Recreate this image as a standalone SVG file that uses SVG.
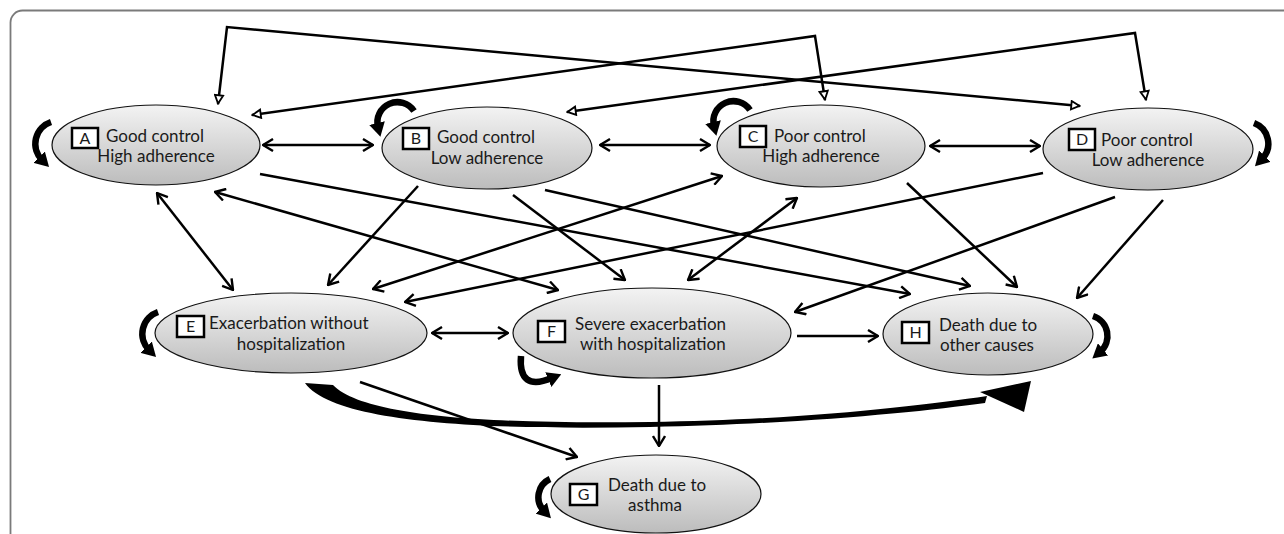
<svg xmlns="http://www.w3.org/2000/svg" width="1284" height="534" viewBox="0 0 1284 534">
<style>
.node ellipse{fill:url(#ng);stroke:#111;stroke-width:1.2}
.box{fill:#fff;stroke:#000;stroke-width:2.5}
.lbl{font-family:Lato,"Liberation Sans",sans-serif;font-size:17px;fill:#1a1a1a}
.key{font-family:Lato,"Liberation Sans",sans-serif;font-size:16px;fill:#1a1a1a;text-anchor:middle}
.c{text-anchor:middle}
.conn{fill:none;stroke:#000;stroke-width:2.5}
.dbl{marker-start:url(#v);marker-end:url(#v)}
.one{marker-end:url(#v)}
.top{fill:none;stroke:#000;stroke-width:2.5;stroke-linejoin:miter;marker-start:url(#tri);marker-end:url(#tri)}
.loop{fill:none;stroke:#000;stroke-width:6.5;marker-end:url(#lh)}
</style>
<defs>
<linearGradient id="ng" x1="0" y1="0" x2="0" y2="1">
<stop offset="0" stop-color="#f3f3f3"/>
<stop offset="1" stop-color="#bcbcbc"/>
</linearGradient>
<marker id="v" viewBox="0 0 12 14" refX="11" refY="7" markerWidth="12" markerHeight="14" markerUnits="userSpaceOnUse" orient="auto-start-reverse">
<path d="M1,1 L11,7 L1,13" fill="none" stroke="#000" stroke-width="2.4"/>
</marker>
<marker id="tri" viewBox="0 0 12 12" refX="11" refY="6" markerWidth="11" markerHeight="11" markerUnits="userSpaceOnUse" orient="auto-start-reverse">
<path d="M1.5,1.5 L10.5,6 L1.5,10.5 Z" fill="#fff" stroke="#000" stroke-width="2"/>
</marker>
<marker id="lh" viewBox="0 0 14 16" refX="4" refY="8" markerWidth="14" markerHeight="16" markerUnits="userSpaceOnUse" orient="auto">
<path d="M0,0 L14,8 L0,16 Z" fill="#000"/>
</marker>
</defs>
<rect x="10.5" y="10.5" width="1320" height="600" rx="12" fill="#fff" stroke="#7a7a7a" stroke-width="1.8"/>

<g id="connectors">
<polyline class="top" points="218,104 227,27 1080,106"/>
<polyline class="top" points="252,115 815,36 825,100"/>
<polyline class="top" points="567,112 1135,33 1146,100"/>

<line class="conn dbl" x1="263" y1="145" x2="373" y2="145"/>
<line class="conn dbl" x1="600" y1="145" x2="710" y2="145"/>
<line class="conn dbl" x1="930" y1="146" x2="1040" y2="146"/>
<line class="conn dbl" x1="432" y1="333" x2="508" y2="333"/>
<line class="conn dbl" x1="157" y1="193" x2="233" y2="290"/>
<line class="conn dbl" x1="215" y1="192" x2="558" y2="290"/>
<line class="conn dbl" x1="373" y1="289" x2="722" y2="176"/>
<line class="conn dbl" x1="688" y1="280" x2="797" y2="198"/>

<line class="conn one" x1="797" y1="336" x2="878" y2="336"/>
<line class="conn one" x1="659" y1="385" x2="659" y2="446"/>
<line class="conn one" x1="360" y1="382" x2="577" y2="457"/>
<line class="conn one" x1="260" y1="174" x2="910" y2="294"/>
<line class="conn one" x1="418" y1="186" x2="328" y2="285"/>
<line class="conn one" x1="513" y1="195" x2="625" y2="280"/>
<line class="conn one" x1="545" y1="190" x2="970" y2="286"/>
<line class="conn one" x1="907" y1="183" x2="1017" y2="287"/>
<line class="conn one" x1="1043" y1="173" x2="405" y2="302"/>
<line class="conn one" x1="1115" y1="197" x2="795" y2="312"/>
<line class="conn one" x1="1163" y1="200" x2="1077" y2="298"/>

<path d="M305,383 C335,425 500,430 650,427 C800,424 920,412 985,403 L987,396 C920,406 800,420 650,422 C500,424 365,418 333,385 Z" fill="#000"/>
<polygon points="980,392 1031,381 1024,412" fill="#000"/>

<path class="loop" d="M51,122 A23,23 0 0 0 42,160"/>
<path class="loop" d="M414,111 A20,20 0 0 0 378,127"/>
<path class="loop" d="M750,110 A20,20 0 0 0 714,126"/>
<path class="loop" d="M1254,123 A22,22 0 0 1 1262,159"/>
<path class="loop" d="M158,312 A23,23 0 0 0 149,350"/>
<path class="loop" d="M521,356 Q518,392 552,378"/>
<path class="loop" d="M1093,316 A21,21 0 0 1 1100,352"/>
<path class="loop" d="M550,479 A20,20 0 0 0 544,511"/>
</g>

<g id="node-A" class="node">
<ellipse cx="156" cy="145" rx="104" ry="40"/>
<rect class="box" x="72" y="128" width="26" height="20"/>
<text class="key" x="85" y="144">A</text>
<text class="lbl" x="106" y="142">Good control</text>
<text class="lbl c" x="156" y="162">High adherence</text>
</g>
<g id="node-B" class="node">
<ellipse cx="487" cy="148" rx="105" ry="41"/>
<rect class="box" x="403" y="128" width="26" height="21"/>
<text class="key" x="416" y="144">B</text>
<text class="lbl" x="437" y="143">Good control</text>
<text class="lbl c" x="487" y="164">Low adherence</text>
</g>
<g id="node-C" class="node">
<ellipse cx="821" cy="146" rx="104" ry="41"/>
<rect class="box" x="740" y="126" width="26" height="21"/>
<text class="key" x="753" y="142">C</text>
<text class="lbl" x="774" y="142">Poor control</text>
<text class="lbl c" x="821" y="162">High adherence</text>
</g>
<g id="node-D" class="node">
<ellipse cx="1148" cy="149" rx="105" ry="41"/>
<rect class="box" x="1069" y="129" width="26" height="21"/>
<text class="key" x="1082" y="145">D</text>
<text class="lbl" x="1101" y="146">Poor control</text>
<text class="lbl c" x="1148" y="166">Low adherence</text>
</g>
<g id="node-E" class="node">
<ellipse cx="291" cy="333" rx="136" ry="40"/>
<rect class="box" x="177" y="316" width="27" height="21"/>
<text class="key" x="190.5" y="332">E</text>
<text class="lbl" x="209" y="329">Exacerbation without</text>
<text class="lbl c" x="291" y="350">hospitalization</text>
</g>
<g id="node-F" class="node">
<ellipse cx="652" cy="333" rx="139" ry="45"/>
<rect class="box" x="538" y="321" width="27" height="21"/>
<text class="key" x="551.5" y="337">F</text>
<text class="lbl" x="575" y="330">Severe exacerbation</text>
<text class="lbl" x="580" y="350">with hospitalization</text>
</g>
<g id="node-H" class="node">
<ellipse cx="988" cy="334" rx="105" ry="41"/>
<rect class="box" x="902" y="322" width="27" height="21"/>
<text class="key" x="915.5" y="338">H</text>
<text class="lbl" x="939" y="331">Death due to</text>
<text class="lbl" x="940" y="351">other causes</text>
</g>
<g id="node-G" class="node">
<ellipse cx="656" cy="494" rx="105" ry="39"/>
<rect class="box" x="570" y="484" width="27" height="21"/>
<text class="key" x="583.5" y="500">G</text>
<text class="lbl" x="608" y="491">Death due to</text>
<text class="lbl c" x="655" y="511">asthma</text>
</g>
</svg>
